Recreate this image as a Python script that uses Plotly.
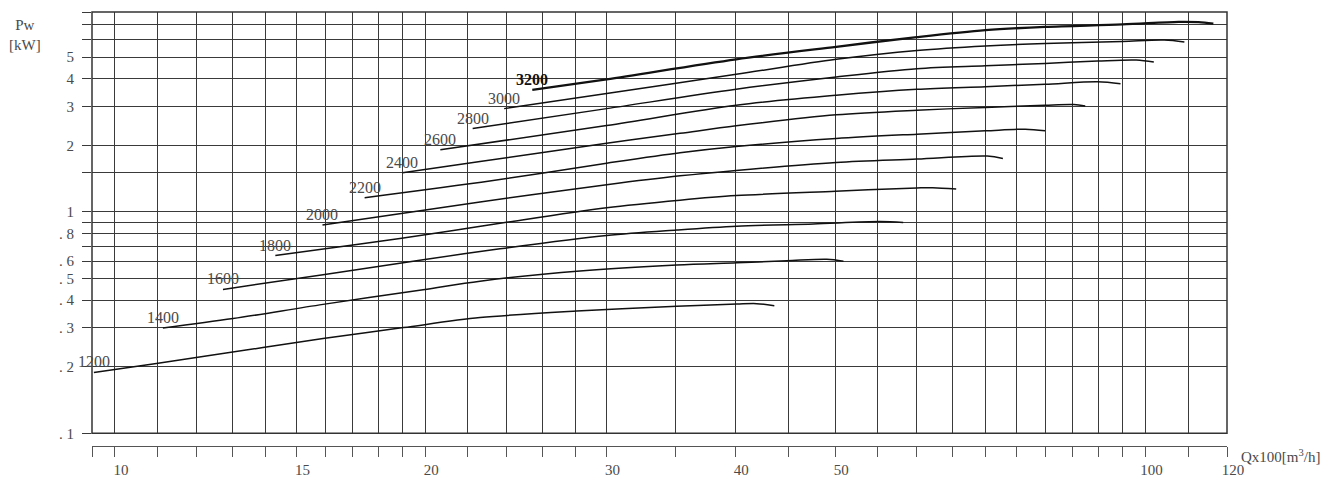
import numpy as np
import plotly.graph_objects as go

# ---- data (Q x100 m3/h, Pw kW) per speed (rpm) ----
speeds = ["1200", "1400", "1600", "1800", "2000", "2200", "2400", "2600", "2800", "3000", "3200"]

q_1200 = [9.54, 10.97, 13.92, 15.92, 19.05, 22.61, 28.06, 35.09, 40.13, 41.96, 43.64]
p_1200 = [0.1883, 0.2067, 0.2440, 0.2679, 0.3002, 0.3331, 0.3566, 0.3745, 0.3835, 0.3852, 0.3772]

q_1400 = [11.13, 13.02, 15.92, 19.91, 22.61, 28.27, 35.09, 40.13, 44.87, 49.07, 50.93]
p_1400 = [0.2989, 0.3297, 0.3823, 0.4452, 0.4868, 0.5412, 0.5759, 0.5892, 0.6016, 0.6117, 0.5991]

q_1600 = [12.73, 15.92, 19.91, 23.64, 30.0, 35.09, 40.13, 47.62, 55.28, 58.2]
p_1600 = [0.4467, 0.5202, 0.6078, 0.6813, 0.7822, 0.8280, 0.8614, 0.8829, 0.9044, 0.8952]

q_1800 = [14.31, 17.16, 21.30, 23.99, 30.0, 35.35, 40.07, 50.03, 60.02, 62.16, 65.52]
p_1800 = [0.6355, 0.7120, 0.8237, 0.8978, 1.045, 1.130, 1.185, 1.240, 1.2828, 1.2868, 1.2696]

q_2000 = [15.90, 22.61, 30.0, 35.35, 40.07, 50.11, 60.02, 70.22, 72.73]
p_2000 = [0.8738, 1.1092, 1.3261, 1.455, 1.540, 1.6730, 1.7330, 1.7878, 1.7438]

q_2200 = [17.47, 23.19, 30.0, 35.35, 40.07, 50.11, 60.02, 69.94, 76.46, 79.91]
p_2200 = [1.1599, 1.3833, 1.6590, 1.8498, 1.9747, 2.1452, 2.2459, 2.3236, 2.3649, 2.3236]

q_2400 = [19.01, 22.61, 30.0, 35.35, 40.07, 50.11, 60.02, 69.94, 79.91, 85.21, 87.42]
p_2400 = [1.5033, 1.6886, 2.0437, 2.2646, 2.4480, 2.7441, 2.8807, 2.965, 3.0340, 3.0530, 3.0123]

q_2600 = [20.69, 30.0, 40.07, 50.11, 60.02, 69.94, 79.91, 89.88, 94.59]
p_2600 = [1.9086, 2.4556, 3.0340, 3.3665, 3.5813, 3.6803, 3.7728, 3.8760, 3.7964]

q_2800 = [22.24, 30.0, 40.07, 50.11, 60.02, 69.94, 79.91, 89.88, 97.98, 101.9]
p_2800 = [2.3798, 2.9286, 3.5813, 4.0695, 4.4359, 4.570, 4.685, 4.8040, 4.8541, 4.7545]

q_3000 = [23.86, 30.0, 40.07, 50.11, 60.02, 69.94, 79.91, 94.97, 104.3, 109.1]
p_3000 = [2.9286, 3.4283, 4.1832, 4.8895, 5.360, 5.620, 5.7706, 5.8917, 5.9717, 5.8493]

q_3200 = [25.41, 30.0, 40.07, 50.11, 60.02, 69.94, 79.91, 94.97, 107.7, 112.6, 116.4]
p_3200 = [3.5562, 3.9720, 4.8895, 5.5717, 6.1615, 6.6248, 6.8543, 7.0271, 7.2196, 7.1972, 7.0860]

curves_q = [q_1200, q_1400, q_1600, q_1800, q_2000, q_2200, q_2400, q_2600, q_2800, q_3000, q_3200]
curves_p = [p_1200, p_1400, p_1600, p_1800, p_2000, p_2200, p_2400, p_2600, p_2800, p_3000, p_3200]

# axis ticks / grid
x_grid = [9.5, 10, 11, 12, 13, 14, 15, 16, 17, 18, 19, 20, 22, 24, 26, 28, 30, 35,
          40, 45, 50, 55, 60, 65, 70, 75, 80, 85, 90, 95, 100, 110, 120]
x_labeled = {10: "10", 15: "15", 20: "20", 30: "30", 40: "40", 50: "50", 100: "100", 120: "120"}
y_grid = [0.1, 0.2, 0.3, 0.4, 0.5, 0.6, 0.7, 0.8, 0.9, 1, 1.5, 2, 3, 4, 5, 6, 7, 8]
y_text = [". 1", ". 2", ". 3", ". 4", ". 5", ". 6", "", ". 8", "", "1", "", "2", "3", "4", "5", "", "", ""]

FONT = "Liberation Serif"
GRID = "#3a3a3a"
TXT = "#4a4a4a"

fig = go.Figure()
annotations = []
for name, q, p in zip(speeds, curves_q, curves_p):
    bold = name == "3200"
    fig.add_trace(go.Scatter(
        x=q, y=p, mode="lines", name=name, showlegend=False,
        line=dict(color="#111111", width=2.3 if bold else 1.5, shape="spline", smoothing=0.9),
        hoverinfo="x+y+name",
    ))
    annotations.append(dict(
        x=np.log10(q[0]), y=np.log10(p[0]), xref="x", yref="y",
        text=("<b>%s</b>" % name) if bold else name, showarrow=False,
        xanchor="center", yanchor="middle", yshift=10.5,
        font=dict(family=FONT, size=16, color="#111111" if bold else TXT),
    ))

annotations.append(dict(
    x=-0.059, y=0.946, xref="paper", yref="paper", text="Pw<br>[kW]", showarrow=False,
    xanchor="center", yanchor="middle", align="center",
    font=dict(family=FONT, size=15, color=TXT),
))
annotations.append(dict(
    x=1, y=0, xref="paper", yref="paper", text="Qx100[m<sup>3</sup>/h]", showarrow=False,
    xanchor="left", yanchor="middle", xshift=12, yshift=-10,
    font=dict(family=FONT, size=15, color=TXT),
))

# page body has an 8px default margin: plot area 92..1227 px, top 12, ruler at 446
y_bottom = (446 - 433.3) / 434.0

fig.update_layout(
    width=1343, height=484,
    margin=dict(l=84, r=124, t=4, b=46),
    paper_bgcolor="white", plot_bgcolor="white",
    annotations=annotations,
    xaxis=dict(
        type="log", range=[np.log10(9.5), np.log10(120)],
        anchor="free", position=0, automargin=False,
        tickmode="array", tickvals=x_grid,
        ticktext=[x_labeled.get(v, "") for v in x_grid],
        ticks="outside", ticklen=10, tickcolor="#555555", tickwidth=1,
        showline=True, linecolor="#555555", linewidth=1,
        showgrid=True, gridcolor=GRID, gridwidth=1, ticklabelshift=6,
        tickfont=dict(family=FONT, size=15, color=TXT), zeroline=False,
    ),
    yaxis=dict(
        type="log", range=[-1, np.log10(8)], domain=[y_bottom, 1], automargin=False,
        tickmode="array", tickvals=y_grid, ticktext=y_text,
        ticks="outside", ticklen=9, tickcolor=GRID, tickwidth=1,
        showline=False, showgrid=True, gridcolor=GRID, gridwidth=1,
        ticklabelstandoff=5,
        tickfont=dict(family=FONT, size=15, color=TXT), zeroline=False,
    ),
    shapes=[dict(type="rect", xref="x domain", yref="y domain", x0=0, x1=1, y0=0, y1=1,
                 line=dict(color="#333333", width=1.5), fillcolor="rgba(0,0,0,0)", layer="above")],
)

fig.write_html("out.html")
